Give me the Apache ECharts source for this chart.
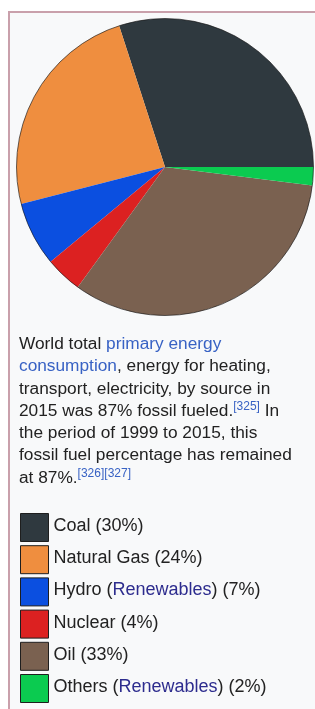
<!DOCTYPE html>
<html>
<head>
<meta charset="utf-8">
<script src="https://cdn.jsdelivr.net/npm/echarts@6/dist/echarts.min.js"></script>
<style>
  html, body { margin: 0; padding: 0; background: #fff; overflow: hidden; }
  #box {
    position: absolute; left: 8px; top: 11px; width: 320px; height: 720px;
    background: #f8f9fa; border-top: 2px solid #c9a0ab; border-left: 2px solid #c9a0ab;
  }
  #main { position: absolute; left: 0; top: 0; width: 315px; height: 709px; }
</style>
</head>
<body>
<div id="box"></div>
<div id="main"></div>
<script>
// 数据
var sources = ['Coal', 'Natural Gas', 'Hydro', 'Nuclear', 'Oil', 'Others']
var shares = [30, 24, 7, 4, 33, 2]
var renewable = [false, false, true, false, false, true]
var colors = ['#2f393f', '#ef8e3f', '#0b4fe0', '#dc2121', '#7a6150', '#0bcb50']

var captionLines = [
    'World total {a|primary energy}',
    '{a|consumption}, energy for heating,',
    'transport, electricity, by source in',
    '2015 was 87% fossil fueled.{s|[325]} In',
    'the period of 1999 to 2015, this',
    'fossil fuel percentage has remained',
    'at 87%.{s|[326][327]}'
]

var font = 'Liberation Sans, Arial, sans-serif'
var linkColor = '#3862c4'

var myChart = echarts.init(document.getElementById('main'))
var option = {
    backgroundColor: 'transparent',
    animation: false,
    title: {
        text: captionLines.join('\n'),
        left: 19,
        top: 333,
        padding: 0,
        textStyle: {
            fontFamily: font,
            fontSize: 17.3,
            fontWeight: 'normal',
            color: '#222',
            lineHeight: 22.3,
            rich: {
                a: { fontFamily: font, fontSize: 17.3, color: linkColor, lineHeight: 22.3 },
                s: { fontFamily: font, fontSize: 12, color: linkColor, lineHeight: 22.3, verticalAlign: 'top', padding: [1, 0, 0, 0] }
            }
        }
    },
    legend: {
        data: sources,
        orient: 'vertical',
        left: 20,
        top: 513,
        padding: 0,
        icon: 'rect',
        itemWidth: 28,
        itemHeight: 28,
        itemGap: 3.2,
        selectedMode: false,
        itemStyle: { borderColor: '#1e1e1e', borderWidth: 1 },
        formatter: function (name) {
            var i = sources.indexOf(name)
            var label = renewable[i] ? name + ' ({r|Renewables})' : name
            return label + ' (' + shares[i] + '%)'
        },
        textStyle: {
            fontFamily: font,
            fontSize: 18,
            color: '#222',
            padding: [0, 0, 3, 0],
            rich: {
                r: { fontFamily: font, fontSize: 18, color: '#2d2c8e' }
            }
        }
    },
    series: [{
        name: 'energy',
        type: 'pie',
        center: [165, 167],
        radius: 148.5,
        startAngle: 0,
        clockwise: false,
        silent: true,
        label: { show: false },
        labelLine: { show: false },
        itemStyle: { borderWidth: 0 },
        data: sources.map(function (s, i) {
            return { name: s, value: shares[i], itemStyle: { color: colors[i] } }
        })
    }, {
        // 外圈描边
        name: 'outline',
        type: 'pie',
        center: [165, 167],
        radius: 148.5,
        silent: true,
        label: { show: false },
        labelLine: { show: false },
        itemStyle: { color: 'transparent', borderColor: 'rgba(20,20,20,0.8)', borderWidth: 0.8 },
        data: [{ name: 'outline', value: 1 }]
    }]
}
myChart.setOption(option)
</script>
</body>
</html>
